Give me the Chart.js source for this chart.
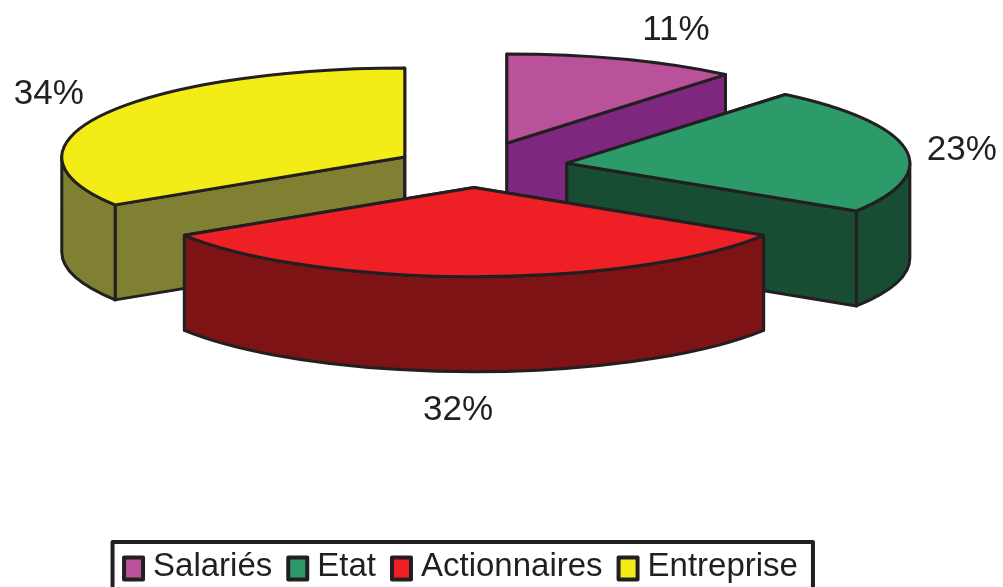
<!DOCTYPE html>
<html>
<head>
<meta charset="utf-8">
<title>Répartition</title>
<script src="https://cdn.jsdelivr.net/npm/chart.js@4"></script>
<style>
    html, body { margin: 0; padding: 0; background: #fff; }
    #wrap { width: 1003px; height: 587px; }
    canvas { filter: blur(0.6px); }
</style>
</head>
<body>
<div id="wrap"><canvas id="chart-pie"></canvas></div>
<script>
const categories = ['Salariés', 'Etat', 'Actionnaires', 'Entreprise'];
const shares = [11, 23, 32, 34];
const topColors = ['#B9519B', '#2C9B69', '#EF1F26', '#F4EC17'];
const wallColors = ['#7E277F', '#184D33', '#7D1315', '#808033'];

const INK = '#231F20';

// Chart.js has no 3D pie, so tilt its arcs here and add the side walls
const tiltPlugin = {
    id: 'tilt',
    beforeDatasetsDraw(chart, args, opts) {
        const ctx = chart.ctx;
        const arcs = chart.getDatasetMeta(0).data;

        const place = (arc, i) => {
            const mid = (arc.startAngle + arc.endAngle) / 2;
            const d = opts.explode[i];
            ctx.translate(opts.centerX, opts.centerY);
            ctx.scale(1, opts.squash);
            ctx.translate(Math.cos(mid) * d - arc.x, Math.sin(mid) * d - arc.y);
        };
        const outline = () => {
            ctx.lineWidth = 3;
            ctx.lineJoin = 'round';
            ctx.strokeStyle = INK;
            ctx.stroke();
        };
        const fillPath = (arc, i, color, build) => {
            ctx.save();
            place(arc, i);
            ctx.beginPath();
            build();
            ctx.restore();   // stroke without the squash
            ctx.fillStyle = color;
            ctx.fill();
            outline();
        };

        // back to front
        opts.order.forEach(i => {
            const arc = arcs[i];
            const {x, y, startAngle: a0, endAngle: a1, outerRadius: r} = arc;
            const h = opts.depth / opts.squash;

            // flat radial faces
            [a0, a1].forEach(a => {
                fillPath(arc, i, wallColors[i], () => {
                    ctx.moveTo(x, y);
                    ctx.lineTo(x + Math.cos(a) * r, y + Math.sin(a) * r);
                    ctx.lineTo(x + Math.cos(a) * r, y + Math.sin(a) * r + h);
                    ctx.lineTo(x, y + h);
                    ctx.closePath();
                });
            });

            // rim, only the part that faces the viewer
            const from = Math.max(a0, 0);
            const to = Math.min(a1, Math.PI);
            if (to > from) {
                fillPath(arc, i, wallColors[i], () => {
                    ctx.arc(x, y, r, from, to);
                    ctx.lineTo(x + Math.cos(to) * r, y + Math.sin(to) * r + h);
                    ctx.arc(x, y + h, r, to, from, true);
                    ctx.closePath();
                });
            }

            // top face: the library's own arc, then a flat-width outline
            ctx.save();
            place(arc, i);
            arc.draw(ctx);
            ctx.beginPath();
            ctx.moveTo(x, y);
            ctx.arc(x, y, r, a0, a1);
            ctx.closePath();
            ctx.restore();
            outline();
        });
        return false;
    },
    afterDraw(chart, args, opts) {
        const ctx = chart.ctx;
        const arcs = chart.getDatasetMeta(0).data;
        ctx.save();

        // percent labels
        ctx.fillStyle = INK;
        ctx.font = opts.labelFont;
        ctx.textAlign = 'center';
        ctx.textBaseline = 'middle';
        arcs.forEach((arc, i) => {
            const mid = (arc.startAngle + arc.endAngle) / 2;
            const [k, dx, dy] = opts.labelReach[i];
            const r = opts.explode[i] + arc.outerRadius * k;
            const px = opts.centerX + Math.cos(mid) * r + dx;
            const py = opts.centerY + Math.sin(mid) * r * opts.squash + dy;
            ctx.fillText(shares[i] + '%', px, py);
        });

        // legend swatches and border, placed from the legend's own hit boxes
        const boxes = chart.legend.legendHitBoxes;
        const last = boxes[boxes.length - 1];
        ctx.strokeStyle = INK;
        ctx.lineWidth = 4;
        boxes.forEach((b, i) => {
            ctx.fillStyle = topColors[i];
            ctx.fillRect(b.left, b.top + b.height / 2 - 9, 19, 22);
            ctx.strokeRect(b.left, b.top + b.height / 2 - 9, 19, 22);
        });
        const left = boxes[0].left - 11.5;
        const right = last.left + last.width + 15;
        ctx.strokeRect(left, boxes[0].top - 8, right - left, chart.height);
        ctx.restore();
    }
};

new Chart(document.getElementById('chart-pie').getContext('2d'), {
    type: 'pie',
    data: {
        labels: categories,
        datasets: [{
            data: shares,
            backgroundColor: topColors,
            borderWidth: 0
        }]
    },
    plugins: [tiltPlugin],
    options: {
        responsive: true,
        maintainAspectRatio: false,
        animation: false,
        radius: 343,
        layout: {padding: {right: 81, bottom: -6}},
        plugins: {
            tooltip: {enabled: false},
            legend: {
                position: 'bottom',
                labels: {
                    color: INK,
                    font: {family: '"Liberation Sans", Arial, sans-serif', size: 33},
                    boxWidth: 12.5,
                    boxHeight: 18,
                    padding: 16,
                    // swatches are painted by the plugin, larger than the gap Chart.js leaves
                    generateLabels() {
                        return categories.map((c, i) => ({
                            text: c,
                            fontColor: INK,
                            fillStyle: 'rgba(0,0,0,0)',
                            strokeStyle: 'rgba(0,0,0,0)',
                            lineWidth: 0,
                            index: i
                        }));
                    }
                }
            },
            tilt: {
                centerX: 474,
                centerY: 167,
                squash: 0.26,
                depth: 95,
                explode: [97, 94, 79, 79],
                order: [3, 0, 1, 2],
                labelFont: '35px "Liberation Sans", Arial, sans-serif',
                labelReach: [[1.455, 0, 9], [1.166, 0, 3], [1, -16, 134], [1.184, 0, -12]]
            }
        }
    }
});
</script>
</body>
</html>
